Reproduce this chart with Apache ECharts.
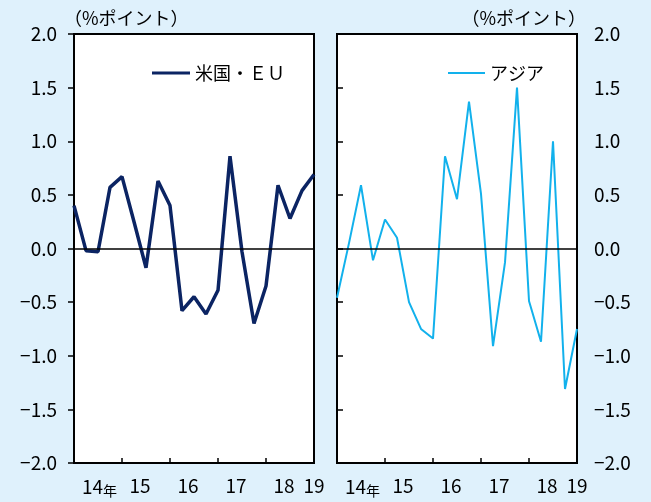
<!DOCTYPE html>
<html>
<head>
<meta charset="utf-8">
<script src="https://cdn.jsdelivr.net/npm/echarts@6.0.0/dist/echarts.min.js"></script>
<style>
html,body{margin:0;padding:0;background:#dff1fc;}
#c{width:651px;height:502px;}
</style>
</head>
<body>
<div id="c"></div>
<script>
// Quarterly categories (2014Q1 .. 2019Q1)
const quarters = ['2014Q1','2014Q2','2014Q3','2014Q4','2015Q1','2015Q2','2015Q3','2015Q4',
  '2016Q1','2016Q2','2016Q3','2016Q4','2017Q1','2017Q2','2017Q3','2017Q4',
  '2018Q1','2018Q2','2018Q3','2018Q4','2019Q1'];
// 米国・EU
const usEu = [0.40,-0.02,-0.03,0.57,0.67,0.25,-0.18,0.63,0.40,-0.58,-0.45,-0.61,-0.39,0.86,-0.03,-0.70,-0.35,0.59,0.28,0.54,0.69];
// アジア
const asia = [-0.46,0.05,0.59,-0.11,0.27,0.10,-0.50,-0.75,-0.84,0.86,0.46,1.37,0.51,-0.91,-0.13,1.50,-0.49,-0.87,1.00,-1.31,-0.75];
// x-axis labels (years) and their positions in quarter index units
const yearLabels = ['14','15','16','17','18','19'];
const yearLabelAt = [1.5,5.5,9.5,13.5,17.5,20];
const yearTickAt = [4,8,12,16];
const yMin = -2, yMax = 2, yStep = 0.5;
const unitLabel = '（%ポイント）';

const FONT = '"Noto Sans CJK JP", "Noto Sans", sans-serif';

function pts(arr){ return arr.map((v,i)=>[i,v]); }
function xFmt(v){
  const i = yearLabelAt.findIndex(p=>Math.abs(p-v)<1e-6);
  if(i<0) return '';
  const t = yearLabels[i];
  return i===0 ? '{p|}{n|'+t+'}{k|年}' : '{n|'+t+'}';
}
function yFmt(v){
  const s = Math.abs(v).toFixed(1);
  return v<0 ? '\u2212'+s : s;
}
function xAxisCfg(gi){
  return {
    gridIndex: gi, type:'value', min:0, max:quarters.length-1,
    axisLine:{show:true, onZero:false, lineStyle:{color:'#000', width:2}},
    axisTick:{show:true, inside:true, length:5, customValues:yearTickAt, lineStyle:{color:'#000', width:1.5}},
    axisLabel:{show:true, customValues:yearLabelAt, formatter:xFmt, margin:13, hideOverlap:false,
      rich:{
        n:{fontSize:19, color:'#000', fontFamily:FONT},
        p:{width:15},
        k:{fontSize:14, color:'#000', fontFamily:FONT, padding:[8,0,0,0]}
      }},
    splitLine:{show:false}
  };
}
function yAxisCfg(gi, pos){
  return {
    gridIndex: gi, type:'value', min:yMin, max:yMax, interval:yStep, position:pos,
    axisLine:{show:true, lineStyle:{color:'#000', width:2}},
    axisTick:{show:true, inside:false, length:6, lineStyle:{color:'#000', width:1.5}},
    axisLabel:{formatter:yFmt, fontSize:19, color:'#000', fontFamily:FONT, margin:17},
    splitLine:{show:false}
  };
}
const zeroLine = {silent:true, symbol:'none', label:{show:false},
  lineStyle:{color:'#000', width:1.5, type:'solid'}, data:[{yAxis:0}]};

const chart = echarts.init(document.getElementById('c'));
chart.setOption({
  backgroundColor:'#dff1fc',
  animation:false,
  textStyle:{fontFamily:FONT},
  grid:[
    {left:74, top:34, width:240, height:429, show:true, backgroundColor:'#fff', borderColor:'#000', borderWidth:2},
    {left:337, top:34, width:240, height:429, show:true, backgroundColor:'#fff', borderColor:'#000', borderWidth:2}
  ],
  xAxis:[xAxisCfg(0), xAxisCfg(1)],
  yAxis:[yAxisCfg(0,'left'), yAxisCfg(1,'right')],
  legend:[
    {data:['米国・ＥＵ'], left:147, top:59, icon:'rect', itemWidth:38, itemHeight:3, itemGap:3,
     textStyle:{fontSize:18, color:'#000', fontFamily:FONT}},
    {data:['アジア'], left:443, top:59, icon:'rect', itemWidth:37, itemHeight:2, itemGap:4,
     textStyle:{fontSize:18, color:'#000', fontFamily:FONT}}
  ],
  graphic:[
    {type:'text', left:64, top:9, style:{text:unitLabel, fontSize:18, fontFamily:FONT, fill:'#000'}},
    {type:'text', right:65, top:9, style:{text:unitLabel, fontSize:18, fontFamily:FONT, fill:'#000'}}
  ],
  series:[
    {name:'米国・ＥＵ', type:'line', xAxisIndex:0, yAxisIndex:0, data:pts(usEu), symbol:'none',
     lineStyle:{color:'#0b2463', width:3.5}, itemStyle:{color:'#0b2463'}, markLine:zeroLine, z:3},
    {name:'アジア', type:'line', xAxisIndex:1, yAxisIndex:1, data:pts(asia), symbol:'none',
     lineStyle:{color:'#12b1ec', width:2}, itemStyle:{color:'#12b1ec'}, markLine:zeroLine, z:3}
  ]
});
</script>
</body>
</html>
